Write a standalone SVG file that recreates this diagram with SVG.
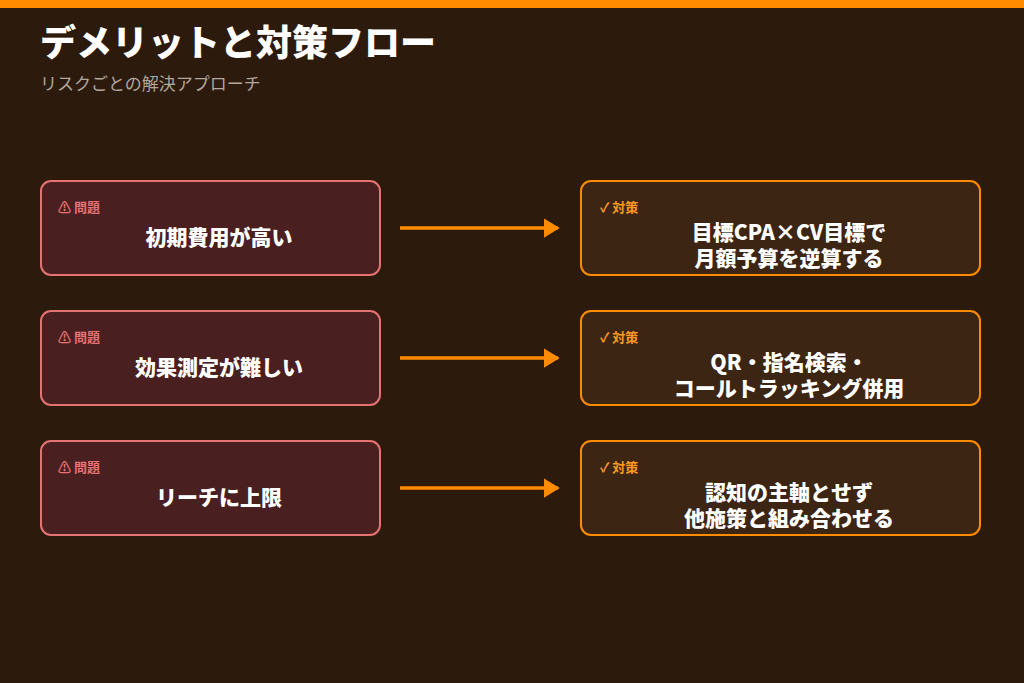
<svg xmlns="http://www.w3.org/2000/svg" width="1024" height="683" viewBox="0 0 1024 683">
<defs>
<style>
.t{font-family:"Noto Sans CJK JP",sans-serif}
.p{fill:#4a1f20;stroke:#e57373;stroke-width:2}
.s{fill:#3d2514;stroke:#ff8c00;stroke-width:2}
.pl{font-size:13px;fill:#e57373;font-weight:700}
.sl{font-size:13px;fill:#ff9a1f;font-weight:700}
.m{font-size:21px;fill:#fff;font-weight:900;text-anchor:middle}
.c{stroke:#ff8c00;stroke-width:3.5;fill:none}
</style>
<marker id="a" markerWidth="4.5" markerHeight="5.5" refX="4" refY="2.75" orient="auto" markerUnits="strokeWidth"><path d="M0,0L4.5,2.75L0,5.5z" fill="#ff8c00"/></marker>
</defs>
<rect width="1024" height="683" fill="#2c1a0d"/>
<rect width="1024" height="8" fill="#ff8c00"/>
<text class="t" x="40" y="56" font-size="36" font-weight="900" fill="#fff">デメリットと対策フロー</text>
<text class="t" x="40" y="90" font-size="17" fill="#b3a79c">リスクごとの解決アプローチ</text>
<g id="connectors">
<line class="c" x1="400" y1="228" x2="558" y2="228" marker-end="url(#a)"/>
<line class="c" x1="400" y1="358" x2="558" y2="358" marker-end="url(#a)"/>
<line class="c" x1="400" y1="488" x2="558" y2="488" marker-end="url(#a)"/>
</g>
<g id="p1"><rect class="p" x="41" y="181" width="339" height="94" rx="10"/><text class="t pl" x="58" y="212">⚠  問題</text><text class="t m" x="219" y="245">初期費用が高い</text></g>
<g id="s1"><rect class="s" x="581" y="181" width="399" height="94" rx="10"/><text class="t sl" x="600" y="212">✓  対策</text><text class="t m" x="789" y="240">目標CPA×CV目標で</text><text class="t m" x="789" y="266">月額予算を逆算する</text></g>
<g id="p2"><rect class="p" x="41" y="311" width="339" height="94" rx="10"/><text class="t pl" x="58" y="342">⚠  問題</text><text class="t m" x="219" y="375">効果測定が難しい</text></g>
<g id="s2"><rect class="s" x="581" y="311" width="399" height="94" rx="10"/><text class="t sl" x="600" y="342">✓  対策</text><text class="t m" x="789" y="370">QR・指名検索・</text><text class="t m" x="789" y="396">コールトラッキング併用</text></g>
<g id="p3"><rect class="p" x="41" y="441" width="339" height="94" rx="10"/><text class="t pl" x="58" y="472">⚠  問題</text><text class="t m" x="219" y="505">リーチに上限</text></g>
<g id="s3"><rect class="s" x="581" y="441" width="399" height="94" rx="10"/><text class="t sl" x="600" y="472">✓  対策</text><text class="t m" x="789" y="500">認知の主軸とせず</text><text class="t m" x="789" y="526">他施策と組み合わせる</text></g>
</svg>
